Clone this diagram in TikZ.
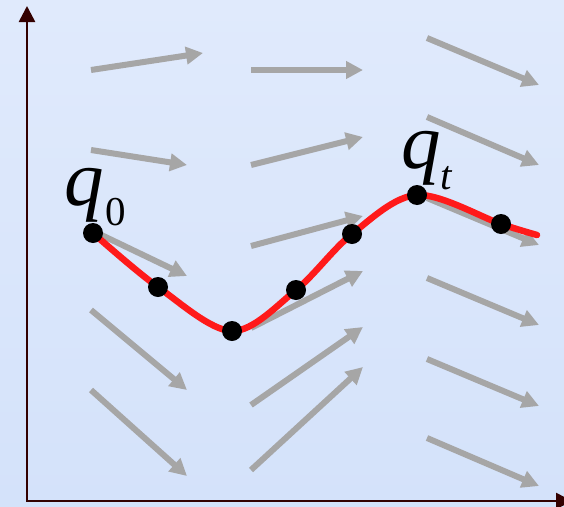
\documentclass[tikz,border=0pt]{standalone}
\usepackage{fontspec}
\setmainfont{Liberation Serif}
\usetikzlibrary{arrows.meta}
\definecolor{axiscol}{RGB}{51,0,0}
\definecolor{fieldgray}{RGB}{166,166,166}
\definecolor{curvered}{RGB}{255,26,26}
\definecolor{bgtop}{RGB}{224,234,252}
\definecolor{bgbot}{RGB}{212,226,250}
\begin{document}
\begin{tikzpicture}[x=1pt,y=-1pt,
  fieldarrow/.style={draw=fieldgray, line width=6pt, -{Triangle[length=17pt,width=17pt]}},
  axisline/.style={draw=axiscol, line width=2.6pt, {Triangle[length=16pt,width=16pt]}-{Triangle[length=16pt,width=16pt]}},
  dot/.style={circle, fill=black, minimum size=20pt, inner sep=0pt},
  curve/.style={draw=curvered, line width=6.5pt, line cap=round},
  lab/.style={anchor=base west, inner sep=0pt}]
\useasboundingbox (0,0) rectangle (564,506);
\shade[top color=bgtop, bottom color=bgbot] (0,0) rectangle (564,506);
% axes
\coordinate (ytop) at (27,6);
\coordinate (origin) at (27,501);
\coordinate (xend) at (572,501);
\draw[axisline] (ytop) -- (origin) -- (xend);
% vector field
\foreach \xa/\ya/\xb/\yb in {
  91/70/203/53, 91/150/187/165, 91/230/187/276, 91/310/187/390, 91/390/187/476,
  251/70/363/70, 251/165/363/137, 251/246/363/216, 251/328/363/271, 251/405/363/327, 251/470/363/367,
  427/38/539/85, 427/117/539/165, 427/198/539/245, 427/278/539/325, 427/359/539/406, 427/438/539/486}
  \draw[fieldarrow] (\xa,\ya) -- (\xb,\yb);
% trajectory points
\coordinate (p0) at (93,233);
\coordinate (p1) at (158,287);
\coordinate (p2) at (232,331);
\coordinate (p3) at (296,290);
\coordinate (p4) at (352,234);
\coordinate (p5) at (417,195);
\coordinate (p6) at (501,224);
\coordinate (cend) at (537,235);
\draw[curve] plot[smooth, tension=0.55] coordinates {(p0) (p1) (p2) (p3) (p4) (p5) (p6) (cend)};
\node[dot] (d0) at (p0) {};
\node[dot] (d1) at (p1) {};
\node[dot] (d2) at (p2) {};
\node[dot] (d3) at (p3) {};
\node[dot] (d4) at (p4) {};
\node[dot] (d5) at (p5) {};
\node[dot] (d6) at (p6) {};
% labels
\node[lab] (q0) at (64,205) {{\fontsize{79}{80}\selectfont\itshape q}\hspace{2pt}\raisebox{-20pt}{\fontsize{41}{41}\selectfont 0}};
\node[lab] (qt) at (401,168) {{\fontsize{79}{80}\selectfont\itshape q}\raisebox{-21pt}{\fontsize{41}{41}\selectfont\itshape t}};
\end{tikzpicture}
\end{document}
